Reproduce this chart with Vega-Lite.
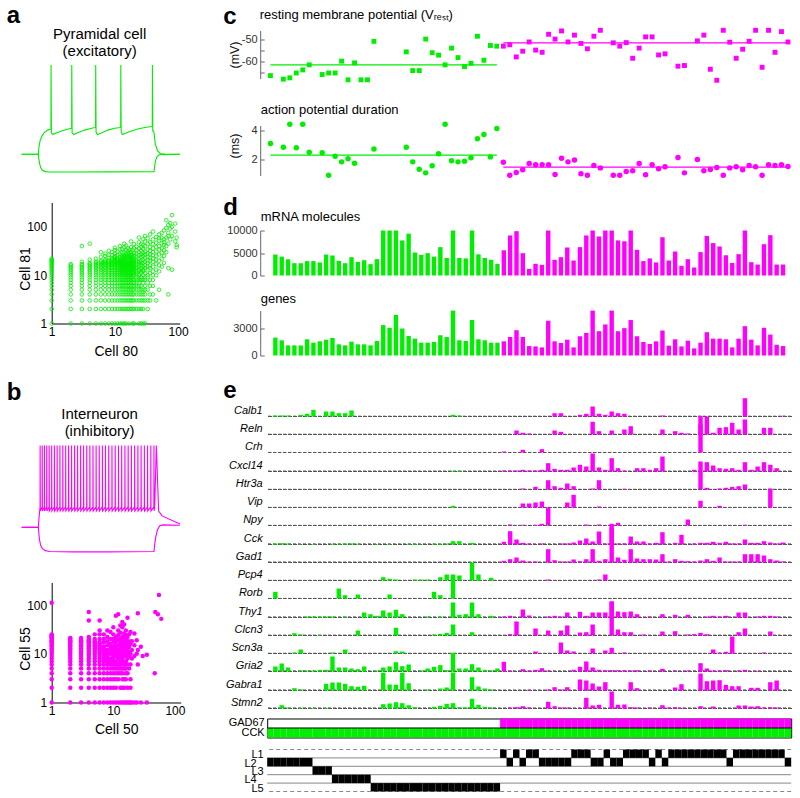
{
"$schema": "https://vega.github.io/schema/vega-lite/v6.json",
"background": "white",
"padding": {"left": 6.7, "top": 3.5, "right": 0, "bottom": 0},
"config": {
 "font": "Liberation Sans",
 "view": {"stroke": null},
 "axis": {"grid": false, "labelFont": "Liberation Sans", "titleFont": "Liberation Sans", "titleFontWeight": "normal", "labelColor": "#333", "titleColor": "#111", "domainColor": "#666", "tickColor": "#666"},
 "title": {"font": "Liberation Sans", "fontWeight": "bold", "fontSize": 24, "anchor": "start", "frame": "group", "color": "#000", "offset": 0, "baseline": "alphabetic"}
},
"datasets": {
 "cells": [
  {"c":1,"m":4660,"g":1990,"v":-66.4,"ap":3.11,"L":"L2","GAD67":0,"CCK":1},
  {"c":2,"m":4200,"g":1690,"L":"L2","GAD67":0,"CCK":1},
  {"c":3,"m":3600,"g":1125,"v":-68.0,"ap":2.86,"L":"L2","GAD67":0,"CCK":1},
  {"c":4,"m":2740,"g":1125,"v":-67.4,"ap":4.43,"L":"L2","GAD67":0,"CCK":1},
  {"c":5,"m":2740,"g":1125,"v":-65.2,"ap":2.82,"L":"L2","GAD67":0,"CCK":1},
  {"c":6,"m":3200,"g":1800,"v":-63.8,"ap":4.43,"L":"L2","GAD67":0,"CCK":1},
  {"c":7,"m":3200,"g":1425,"v":-61.5,"ap":2.52,"L":"L2","GAD67":0,"CCK":1},
  {"c":8,"m":2900,"g":1575,"L":"L3","GAD67":0,"CCK":1},
  {"c":9,"m":4660,"g":1760,"v":-65.9,"ap":2.48,"L":"L3","GAD67":0,"CCK":1},
  {"c":10,"m":4440,"g":1950,"v":-65.2,"ap":0.95,"L":"L3","GAD67":0,"CCK":1},
  {"c":11,"m":3260,"g":1240,"v":-65.2,"ap":2.25,"L":"L4","GAD67":0,"CCK":1},
  {"c":12,"m":2740,"g":1125,"v":-59.8,"ap":1.86,"L":"L4","GAD67":0,"CCK":1},
  {"c":13,"m":4070,"g":1540,"v":-68.3,"ap":2.07,"L":"L4","GAD67":0,"CCK":1},
  {"c":14,"m":3030,"g":1240,"v":-60.6,"ap":1.77,"L":"L4","GAD67":0,"CCK":1},
  {"c":15,"m":3400,"g":1240,"v":-68.3,"L":"L4","GAD67":0,"CCK":1},
  {"c":16,"m":2520,"g":1125,"v":-68.3,"L":"L4","GAD67":0,"CCK":1},
  {"c":17,"m":3630,"g":1610,"v":-50.8,"ap":2.73,"L":"L5","GAD67":0,"CCK":1},
  {"c":18,"m":10000,"g":3375,"L":"L5","GAD67":0,"CCK":1},
  {"c":19,"m":10000,"g":3075,"L":"L5","GAD67":0,"CCK":1},
  {"c":20,"m":10000,"g":4500,"L":"L5","GAD67":0,"CCK":1},
  {"c":21,"m":7800,"g":3000,"L":"L5","GAD67":0,"CCK":1},
  {"c":22,"m":9300,"g":2175,"v":-55.6,"ap":2.86,"L":"L5","GAD67":0,"CCK":1},
  {"c":23,"m":5100,"g":1875,"v":-64.1,"ap":1.86,"L":"L5","GAD67":0,"CCK":1},
  {"c":24,"m":4600,"g":1425,"v":-64.1,"ap":1.36,"L":"L5","GAD67":0,"CCK":1},
  {"c":25,"m":4960,"g":1425,"v":-49.8,"ap":1.11,"L":"L5","GAD67":0,"CCK":1},
  {"c":26,"m":4200,"g":1500,"v":-56.0,"ap":1.6,"L":"L5","GAD67":0,"CCK":1},
  {"c":27,"m":6300,"g":2250,"v":-57.1,"ap":2.41,"L":"L5","GAD67":0,"CCK":1},
  {"c":28,"m":3900,"g":2060,"v":-61.5,"ap":4.43,"L":"L5","GAD67":0,"CCK":1},
  {"c":29,"m":10000,"g":4990,"v":-53.9,"ap":1.93,"L":"L5","GAD67":0,"CCK":1},
  {"c":30,"m":3900,"g":1690,"v":-58.2,"ap":1.86,"L":"L5","GAD67":0,"CCK":1},
  {"c":31,"m":3800,"g":1610,"v":-62.3,"ap":1.91,"L":"L5","GAD67":0,"CCK":1},
  {"c":32,"m":10000,"g":3940,"v":-60.8,"ap":2.14,"L":"L5","GAD67":0,"CCK":1},
  {"c":33,"m":4700,"g":1800,"v":-48.5,"ap":3.43,"L":"L5","GAD67":0,"CCK":1},
  {"c":34,"m":3900,"g":1690,"v":-59.4,"ap":3.73,"L":"L5","GAD67":0,"CCK":1},
  {"c":35,"m":3500,"g":1425,"v":-52.7,"ap":2.2,"L":"L5","GAD67":0,"CCK":1},
  {"c":36,"m":2600,"g":1425,"v":-53.0,"ap":4.14,"L":"L5","GAD67":0,"CCK":1},
  {"c":37,"m":5600,"g":1575,"v":-53.0,"ap":1.84,"L":"L1","GAD67":1,"CCK":1},
  {"c":38,"m":8900,"g":2060,"v":-52.4,"ap":0.95,"L":"L2","GAD67":1,"CCK":1},
  {"c":39,"m":9850,"g":2810,"v":-57.9,"ap":1.14,"L":"L1","GAD67":1,"CCK":1},
  {"c":40,"m":4960,"g":2060,"v":-55.3,"ap":1.32,"L":"L2","GAD67":1,"CCK":1},
  {"c":41,"m":1480,"g":1050,"v":-51.1,"ap":1.75,"L":"L1","GAD67":1,"CCK":1},
  {"c":42,"m":2600,"g":1010,"v":-54.8,"ap":1.66,"L":"L1","GAD67":1,"CCK":1},
  {"c":43,"m":2370,"g":900,"v":-55.8,"ap":1.66,"L":"L2","GAD67":1,"CCK":1},
  {"c":44,"m":10000,"g":3860,"v":-47.6,"ap":1.66,"L":"L2","GAD67":1,"CCK":1},
  {"c":45,"m":3480,"g":1575,"v":-49.8,"ap":1.0,"L":"L2","GAD67":1,"CCK":1},
  {"c":46,"m":4070,"g":1390,"v":-46.1,"ap":2.11,"L":"L2","GAD67":1,"CCK":1},
  {"c":47,"m":6220,"g":1760,"v":-51.1,"ap":1.86,"L":"L2","GAD67":1,"CCK":1},
  {"c":48,"m":3330,"g":900,"v":-48.0,"ap":1.98,"L":"L1","GAD67":1,"CCK":1},
  {"c":49,"m":6300,"g":2140,"v":-51.8,"ap":1.05,"L":"L1","GAD67":1,"CCK":1},
  {"c":50,"m":8900,"g":2510,"v":-54.2,"ap":0.95,"L":"L1","GAD67":1,"CCK":1},
  {"c":51,"m":10000,"g":4990,"v":-48.5,"ap":1.61,"L":"L2","GAD67":1,"CCK":1},
  {"c":52,"m":8670,"g":2700,"v":-45.8,"ap":1.45,"L":"L2","GAD67":1,"CCK":1},
  {"c":53,"m":10000,"g":3450,"L":"L1","GAD67":1,"CCK":1},
  {"c":54,"m":10000,"g":4990,"v":-51.5,"ap":0.95,"L":"L2","GAD67":1,"CCK":1},
  {"c":55,"m":7800,"g":2700,"v":-53.0,"ap":0.95,"L":"L2","GAD67":1,"CCK":1},
  {"c":56,"m":7600,"g":3040,"v":-51.4,"ap":1.2,"L":"L1","GAD67":1,"CCK":1},
  {"c":57,"m":10000,"g":3940,"v":-58.5,"ap":1.25,"L":"L1","GAD67":1,"CCK":1},
  {"c":58,"m":5700,"g":2140,"v":-53.9,"ap":1.75,"L":"L1","GAD67":1,"CCK":1},
  {"c":59,"m":3200,"g":1500,"v":-48.8,"ap":0.98,"L":"L1","GAD67":1,"CCK":1},
  {"c":60,"m":3800,"g":1275,"v":-48.8,"ap":1.66,"L":"L2","GAD67":1,"CCK":1},
  {"c":61,"m":2900,"g":1575,"v":-57.0,"ap":1.39,"L":"L1","GAD67":1,"CCK":1},
  {"c":62,"m":8500,"g":2775,"v":-56.5,"ap":1.52,"L":"L2","GAD67":1,"CCK":1},
  {"c":63,"m":3330,"g":1090,"L":"L1","GAD67":1,"CCK":1},
  {"c":64,"m":5330,"g":1800,"v":-62.1,"ap":2.16,"L":"L1","GAD67":1,"CCK":1},
  {"c":65,"m":2150,"g":1010,"v":-61.8,"ap":1.11,"L":"L1","GAD67":1,"CCK":1},
  {"c":66,"m":3630,"g":1650,"L":"L1","GAD67":1,"CCK":1},
  {"c":67,"m":1780,"g":790,"v":-50.6,"ap":2.02,"L":"L1","GAD67":1,"CCK":1},
  {"c":68,"m":5200,"g":1425,"v":-48.0,"ap":1.25,"L":"L1","GAD67":1,"CCK":1},
  {"c":69,"m":8800,"g":2590,"v":-63.5,"ap":1.34,"L":"L1","GAD67":1,"CCK":1},
  {"c":70,"m":7200,"g":1875,"v":-68.5,"ap":1.48,"L":"L1","GAD67":1,"CCK":1},
  {"c":71,"m":6450,"g":1875,"v":-45.8,"ap":0.95,"L":"L1","GAD67":1,"CCK":1},
  {"c":72,"m":4500,"g":1800,"v":-51.2,"ap":1.45,"L":"L2","GAD67":1,"CCK":1},
  {"c":73,"m":2800,"g":900,"v":-58.5,"ap":1.52,"L":"L1","GAD67":1,"CCK":1},
  {"c":74,"m":4740,"g":1875,"v":-54.4,"ap":1.32,"L":"L1","GAD67":1,"CCK":1},
  {"c":75,"m":10000,"g":3260,"v":-50.8,"ap":1.61,"L":"L1","GAD67":1,"CCK":1},
  {"c":76,"m":2960,"g":1760,"v":-45.8,"ap":1.52,"L":"L1","GAD67":1,"CCK":1},
  {"c":77,"m":2440,"g":1125,"v":-62.6,"ap":0.95,"L":"L1","GAD67":1,"CCK":1},
  {"c":78,"m":6960,"g":3075,"v":-45.8,"ap":1.66,"L":"L1","GAD67":1,"CCK":1},
  {"c":79,"m":8960,"g":2325,"v":-55.8,"ap":1.61,"L":"L1","GAD67":1,"CCK":1},
  {"c":80,"m":2440,"g":1200,"v":-46.4,"ap":1.66,"L":"L1","GAD67":1,"CCK":1},
  {"c":81,"m":2440,"g":1050,"v":-51.1,"ap":1.55,"L":"L2","GAD67":1,"CCK":1}
 ],
 "means": [{"c1":1,"c2":36,"v":-61.5,"ap":2.32},{"c1":37,"c2":81,"v":-51.5,"ap":1.5}],
 "expr": [
  {"gene":"Calb1","c":[1,2,3,5,6,7,9,10,11,12,13,29,30,45,46,49,50,51,52,53,54,55,56,62,75,81],"v":[1,1,1,1.7,2.7,6.7,5,5,3.3,3.3,6,1.7,1,3.3,3.3,1.7,2.7,10,2.7,1.7,5,3.3,2.7,1,18.3,0.7]},
  {"gene":"Reln","c":[39,40,41,45,46,51,52,54,56,57,62,64,65,66,68,69,70,71,72,73,74,75,78,79],"v":[4,1.7,1,4,2.7,12.7,3.3,4,5,8.3,5,3.3,1.7,1,10,18,1.7,6.7,7.3,11.7,5,15,6.7,6.7]},
  {"gene":"Crh","c":[37,40,43,68],"v":[1,2.7,3.3,36.7]},
  {"gene":"Cxcl14","c":[29,30,37,38,39,40,41,42,43,44,45,46,47,48,49,50,51,52,53,54,55,56,58,59,60,61,62,67,68,69,70,71,72,73,74,75,76,77,78,79,80],"v":[0.7,0.7,1,1,1,1.7,1,1,1.7,8.3,2.7,1.7,1.7,4,6.7,5,18,4,1.7,13.3,3.3,1,3.3,3.3,1.7,3.3,15,1.7,10,9.3,6,3.3,2.7,3.3,1.7,9.3,1.7,5,9.3,6.7,3.3]},
  {"gene":"Htr3a","c":[40,42,44,45,46,47,48,51,52,56,68,69,71,72,73,74,75,79],"v":[1,2.7,9.3,3.3,1.7,6,3.3,1,9.3,0.7,18,1.7,1,1.7,2.7,3.3,5,1]},
  {"gene":"Vip","c":[29,40,41,42,43,47,48,52,68,71,79],"v":[1.7,4,4,5,6,5,12.7,1,6.7,1.7,18.3]},
  {"gene":"Npy","c":[38,40,42,43,44,50,52,54,55,66,75],"v":[1,0.7,0.7,1.7,18,1,1,1.7,2.7,6,0.7]},
  {"gene":"Cck","c":[1,2,3,5,7,10,11,12,13,14,17,19,22,23,24,26,27,28,29,30,32,37,38,39,40,41,43,46,47,48,49,50,51,52,53,54,55,56,57,58,59,60,61,62,64,65,67,68,69,70,71,72,73,74,75,76,77,78,79,80,81],"v":[1,1.3,1,0.5,0.5,0.7,0.7,1,1,0.7,0.5,0.5,0.7,0.7,0.5,0.7,0.7,1,3.3,3.3,1.7,2.7,13.3,5,1.7,1,1,1,1,2,4,6,3,13,1,19.7,1,1,8,3,3,1,1.7,12.3,1.7,9.7,1,1.7,1.7,2.7,1.7,2.7,1,1,5,1.7,1.7,3.3,2,1,2]},
  {"gene":"Gad1","c":[37,38,39,40,41,42,44,45,46,47,48,49,50,51,52,53,54,55,56,57,58,59,60,61,62,63,64,65,66,67,68,69,70,71,72,73,74,75,76,77,78,79,80,81],"v":[1.7,3.3,5,2,1,1,13.3,2.3,1,1,3,1.3,3.3,13.3,1.7,3.3,35,5,2.7,13.3,4,3.3,3.3,3,8.3,1,3.3,1.7,1.3,1,2,3.3,1.7,5,1,1,1,8.3,8.3,8.3,7,3.3,2,1]},
  {"gene":"Pcp4","c":[18,19,20,23,24,25,27,28,29,30,32,33,35,44,52,53],"v":[3.3,1.7,1,1,1,1,3.3,6,5,5,18,6,2.7,1,1,6]},
  {"gene":"Rorb","c":[1,11,12,14,19,26,27,29],"v":[6.7,10,3.3,4,4,6.7,3.3,24]},
  {"gene":"Thy1","c":[6,7,8,9,10,12,15,16,17,18,19,20,21,25,27,29,30,31,32,33,35,37,38,40,41,44,45,46,47,49,50,51,52,53,54,55,56,57,58,60,62,64,66,69,70,71,72,74,75,77,78,79,80],"v":[1,1,1,1,1,1,5,3.3,1.7,7,5,7.7,3.3,1,1,15,2.7,3.3,15,3.3,1.7,1,1.7,8,2,1,1.7,1,5,5.7,1.7,5,5,5,16,6,5.3,6,3.3,1,3.3,2.7,2.7,1,1.7,1,1.7,5,5,1,1.7,1.7,1]},
  {"gene":"Clcn3","c":[4,5,8,14,20,26,27,28,29,32,38,39,42,44,46,47,49,50,51,54,55,56,57,59,62,64,66,67,68,69,74,75,79],"v":[2.3,1,0.7,5,7.7,1,1.7,2.7,11,3.3,1.3,14,7,5,5,10,3,3.3,11,34,6,3.3,3.3,1,4,4.3,1,1.3,2.7,1.3,3.3,7,4]},
  {"gene":"Scn3a","c":[4,5,10,12,20,21,42,46,47,48,51,53,54,56,70,71,72,73,78],"v":[1,4,1,4,2.3,2,2,11,3,2,5,3,5.7,1,4,1,1.7,17,1]},
  {"gene":"Gria2","c":[1,2,3,5,6,7,8,9,10,11,12,13,14,15,17,18,19,20,21,22,24,25,26,27,28,29,30,31,32,33,34,35,36,37,38,40,41,42,43,44,48,49,50,51,52,53,54,55,56,57,58,60,62,64,66,68,69,70,71,72,74,75,77],"v":[5,8,4,1,1,1,1.7,1.7,15,4,4,3,2.3,5,1,4,5,9.3,5.3,7,1,3,4.7,6.3,1.3,18.7,3,3,7.3,4,1.7,1,3,9.7,1,2.3,1,1.7,3.3,1,1.7,4.7,10,4,1.7,1.3,1.3,1.3,1.3,1,1.3,1,2.7,1,1,8.3,3,1,1,1.3,1,1.7,0.7]},
  {"gene":"Gabra1","c":[4,5,9,10,11,12,13,14,15,18,19,20,21,22,25,27,28,29,32,33,34,35,41,44,45,46,47,49,50,51,52,53,57,58,64,65,68,69,70,71,72,73,74,76,77,79,80],"v":[2.3,1,6.7,8,8,6.7,4.3,3.7,4.7,17.7,6,5.7,17.7,7.3,1,2,3,18,13.3,4,2,1,0.7,1,3.3,1,3.3,11,10,7,4,8.3,8.3,2.3,3,6.3,17,9.3,10,10.3,5.7,4.3,4.3,2.7,2.7,8.3,10]},
  {"gene":"Stmn2","c":[2,3,5,7,9,18,19,20,21,22,23,26,27,28,29,30,31,32,33,34,35,38,39,40,41,44,45,46,47,49,50,51,52,54,55,56,57,58,60,62,63,64,65,68,70,74,75,76,77,78,79,80],"v":[3.3,1,0.7,0.7,0.7,4.3,5,6.3,5.3,3.3,1.3,1.7,2.7,4.7,5.3,1.3,1,9.7,3.7,1.7,1,1,1.3,2.3,1,6.7,2.3,1,1,0.7,10.7,3,3.7,17,3.7,4,1.3,1,1,3.3,1,1.3,0.7,2.3,2,3,3,2,2.3,1,1.3,1]}
 ]
},
"hconcat": [
 {
  "vconcat": [
   {"width": 10, "height": 30, "data": {"values": [{}]}, "mark": {"type": "point", "opacity": 0}, "encoding": {}},
   {
    "width": 131, "height": 116,
    "title": {"text": "a", "dx": -45, "dy": 5},
    "data": {"values": [
     {"s":"1","t":[-144,0,5,15,30,50,80,105,109,110,113,125,160,200,250,285,288,289,292,305,340,400,460,492,495,496,499,510,550,600,660,709,712,713,716,728,780,850,920,982,985,986,989,997,1002,1010,1030,1060,1085,1224],
      "v":[-70,-70,-62,-55,-50,-46,-43,-42,-42,30,-46,-48,-46,-44,-42,-41,-41,30,-46,-48,-46,-43,-41,-40,-40,30,-45,-48,-46,-43,-41,-40,-40,30,-45,-48,-45,-42,-40,-39,-39,30,-44,-44,-48,-58,-66,-70,-70.5,-70]},
     {"s":"2","t":[-144,0,4,10,20,35,60,100,300,600,1000,1004,1012,1025,1045,1070,1100,1224],
      "v":[-70,-70,-75,-80,-85,-88,-89.5,-90,-90,-89.8,-89.5,-85,-78,-73,-70.5,-69.5,-70,-70]}
    ]},
    "transform": [{"flatten": ["t","v"]}],
    "mark": {"type": "line", "color": "#00ee00", "strokeWidth": 1.1},
    "encoding": {
     "x": {"field": "t", "type": "quantitative", "scale": {"domain": [115.5, 1248], "nice": false, "zero": false}, "axis": {"orient": "top", "domain": false, "ticks": false, "labels": false, "title": ["Pyramidal cell", "(excitatory)"], "titleFontSize": 15, "titleX": 47.4, "titleY": -22, "titleAlign": "center", "titleBaseline": "alphabetic", "titleColor": "#000"}},
     "y": {"field": "v", "type": "quantitative", "scale": {"domain": [-95, 35], "nice": false, "zero": false}, "axis": null},
     "detail": {"field": "s", "type": "nominal"}
    }
   },
   {"width": 10, "height": 26, "data": {"values": [{}]}, "mark": {"type": "point", "opacity": 0}, "encoding": {}},
   {
    "width": 128, "height": 121,
    "data": {"values": [
     {"x":1,"ys":[1,2,3,4,5,6,7,8,9,10,11,12,13,14,15,16,17,18,19,20,21,22]},
     {"x":2,"ys":[1,2,3,4,5,6,7,8,9,10,11,12,13,14,15,16,17]},
     {"x":3,"ys":[1,2,3,4,5,6,7,8,9,10,11,12,13,14,15,16,17,19,40]},
     {"x":4,"ys":[1,2,3,4,5,6,7,8,9,10,11,12,13,14,15,16,17,18,21,45]},
     {"x":5,"ys":[1,2,3,4,5,6,7,8,9,10,11,12,13,14,15,16,17,18,19,22]},
     {"x":6,"ys":[1,2,3,4,5,6,7,8,9,10,11,12,13,14,15,16,17,18,19,20,24,30]},
     {"x":7,"ys":[1,2,3,4,5,6,7,8,9,10,11,12,13,14,15,16,17,18,19,20,21,25,28]},
     {"x":8,"ys":[1,2,3,4,5,6,7,8,9,10,11,12,13,14,15,16,17,18,19,20,23,26,32]},
     {"x":9,"ys":[1,2,3,4,5,6,7,8,9,10,11,12,13,14,15,16,17,18,19,20,21,22,26,30]},
     {"x":10,"ys":[1,2,3,4,5,6,7,8,9,10,11,12,13,14,15,16,17,18,19,20,21,22,23,24,25,28,33,37]},
     {"x":11,"ys":[1,2,3,4,5,6,7,8,9,10,11,12,13,14,15,16,17,18,19,20,21,22,26,31]},
     {"x":12,"ys":[1,2,3,4,5,6,7,8,9,10,11,12,13,14,15,16,17,18,19,20,22,24,27,34,40]},
     {"x":13,"ys":[1,2,3,4,5,6,7,8,9,10,11,12,13,14,15,16,17,18,19,20,21,23,25,29,35]},
     {"x":14,"ys":[1,2,3,4,5,6,7,8,9,10,11,12,13,14,15,16,17,18,19,20,22,24,26,30,38,45]},
     {"x":15,"ys":[1,2,3,4,5,6,7,8,9,10,11,12,13,14,15,16,17,18,19,21,23,25,28,33,41]},
     {"x":16,"ys":[2,3,4,5,6,7,8,9,10,11,12,13,14,15,16,17,18,20,22,24,27,31,36]},
     {"x":17,"ys":[1,2,3,4,5,6,7,8,9,10,11,12,13,14,15,16,17,19,21,23,25,29,34]},
     {"x":18,"ys":[2,3,4,5,6,7,8,9,10,11,12,13,14,15,16,18,20,22,24,26,30,38,50]},
     {"x":19,"ys":[1,2,3,4,5,6,7,8,9,10,11,12,13,14,15,16,17,18,19,20,22,24,27,33]},
     {"x":20,"ys":[1,2,3,4,5,6,7,8,10,11,12,13,14,15,16,18,20,22,25,29,36,44]},
     {"x":22,"ys":[2,3,4,5,6,7,8,9,10,11,12,14,15,17,19,21,24,28,33,39]},
     {"x":24,"ys":[1,2,3,4,5,6,7,8,9,10,12,13,15,17,19,22,26,30,36,48,60]},
     {"x":26,"ys":[1,2,3,4,5,6,8,9,11,12,14,16,18,20,24,27,32,38,44]},
     {"x":28,"ys":[1,2,3,4,5,7,8,10,12,13,15,18,21,25,29,35,42,55]},
     {"x":30,"ys":[1,3,4,5,6,8,9,11,14,16,19,23,27,31,40,50,65]},
     {"x":33,"ys":[2,3,5,7,9,10,13,15,18,20,24,28,34,45,58]},
     {"x":36,"ys":[3,4,6,8,11,14,16,20,23,27,32,38,48,70]},
     {"x":40,"ys":[4,6,8,10,12,15,19,22,26,30,36,44,55,80]},
     {"x":45,"ys":[3,10,13,17,21,25,31,38,47,62]},
     {"x":50,"ys":[5,12,16,20,27,34,40,52,70,58]},
     {"x":55,"ys":[15,22,29,36,46,60,75]},
     {"x":60,"ys":[18,25,33,42,55,85,48]},
     {"x":65,"ys":[30,40,60,137,95]},
     {"x":70,"ys":[4,14,45,65,75,110]},
     {"x":75,"ys":[92,120,55]},
     {"x":80,"ys":[13,175,100,65]},
     {"x":90,"ys":[117,80,50]},
     {"x":95,"ys":[42,60,38]}
    ]},
    "transform": [{"flatten": ["ys"], "as": ["y"]}],
    "mark": {"type": "point", "shape": "circle", "filled": false, "size": 13, "strokeWidth": 0.8, "color": "#00ee00", "opacity": 1},
    "encoding": {
     "x": {"field": "x", "type": "quantitative", "scale": {"type": "log", "domain": [1, 106], "nice": false}, "axis": {"values": [1,10,100], "format": "d", "title": "Cell 80", "ticks": false, "domainColor": "#000", "labelColor": "#000", "labelFontSize": 12, "labelPadding": 3, "labelFlush": false, "titleFontSize": 14, "titleY": 32, "titleBaseline": "alphabetic", "titleColor": "#000"}},
     "y": {"field": "y", "type": "quantitative", "scale": {"type": "log", "domain": [1, 320], "nice": false}, "axis": {"values": [1,10,100], "format": "d", "title": "Cell 81", "ticks": false, "domainColor": "#000", "labelColor": "#000", "labelFontSize": 12, "labelPadding": 5, "labelFlush": false, "titleFontSize": 14, "titleX": -19, "titleY": 66, "titleBaseline": "bottom", "titleAngle": -90, "titleColor": "#000"}}
    }
   },
   {"width": 10, "height": 118, "data": {"values": [{}]}, "mark": {"type": "point", "opacity": 0}, "encoding": {}},
   {
    "width": 131, "height": 112,
    "title": {"text": "b", "dx": -45, "dy": 2.5},
    "data": {"values": [
     {"s":"1","t":[-144,0,5,10,15,15.5,17,33,33.5,35,52,52.5,54,72,72.5,74,93,93.5,95,115,115.5,117,138,138.5,140,162,162.5,164,186,186.5,188,211,211.5,213,236,236.5,238,261,261.5,263,287,287.5,289,313,313.5,315,339,339.5,341,365,365.5,367,391,391.5,393,418,418.5,420,445,445.5,447,472,472.5,474,499,499.5,501,526,526.5,528,553,553.5,555,580,580.5,582,608,608.5,610,636,636.5,638,664,664.5,666,692,692.5,694,720,720.5,722,748,748.5,750,776,776.5,778,804,804.5,806,832,832.5,834,860,860.5,862,888,888.5,890,916,916.5,918,944,944.5,946,972,972.5,974,999,999.5,1001,1006,1020,1040,1070,1224],
      "v":[-70,-70,-60,-52,-45,30,-50,-45,30,-50,-45,30,-50,-45,30,-50,-45,30,-50,-45,30,-50,-45,30,-50,-45,30,-50,-45,30,-50,-45,30,-50,-45,30,-50,-45,30,-50,-45,30,-50,-45,30,-50,-45,30,-50,-45,30,-50,-45,30,-50,-45,30,-50,-45,30,-50,-45,30,-50,-45,30,-50,-45,30,-50,-45,30,-50,-45,30,-50,-45,30,-50,-45,30,-50,-45,30,-50,-45,30,-50,-45,30,-50,-45,30,-50,-45,30,-50,-45,30,-50,-45,30,-50,-45,30,-50,-45,30,-50,-45,30,-50,-45,30,-50,-45,30,-50,-45,30,-50,-45,30,-50,-56,-66,-72,-73.5,-73]},
     {"s":"2","t":[-144,0,4,10,20,35,60,100,300,600,1000,1005,1015,1030,1050,1075,1224],
      "v":[-70,-70,-77,-85,-92,-96,-98.5,-99.5,-100,-100,-99.5,-92,-82,-73,-68,-67,-67.5]}
    ]},
    "transform": [{"flatten": ["t","v"]}],
    "mark": {"type": "line", "color": "#ff00ff", "strokeWidth": 1.1},
    "encoding": {
     "x": {"field": "t", "type": "quantitative", "scale": {"domain": [115.5, 1248], "nice": false, "zero": false}, "axis": {"orient": "top", "domain": false, "ticks": false, "labels": false, "title": ["Interneuron", "(inhibitory)"], "titleFontSize": 15, "titleX": 47.4, "titleY": -22.6, "titleAlign": "center", "titleBaseline": "alphabetic", "titleColor": "#000"}},
     "y": {"field": "v", "type": "quantitative", "scale": {"domain": [-102, 35], "nice": false, "zero": false}, "axis": null},
     "detail": {"field": "s", "type": "nominal"}
    }
   },
   {"width": 10, "height": 29, "data": {"values": [{}]}, "mark": {"type": "point", "opacity": 0}, "encoding": {}},
   {
    "width": 129, "height": 120,
    "data": {"values": [
     {"x":1,"ys":[1,2,3,4,5,6,7,8,9,10,11,12,13,14,15,16,17,18,19,20,21,22,23,24,25,111]},
     {"x":2,"ys":[1,2,3,4,5,6,7,8,9,10,11,12,13,14,15,16,17,18,19,20,21]},
     {"x":3,"ys":[1,2,3,4,5,6,7,8,9,10,11,12,13,14,15,16,17,18,19,20,21]},
     {"x":4,"ys":[1,2,3,4,5,6,7,8,9,10,11,12,13,14,15,16,17,18,19,20,22,48,72]},
     {"x":5,"ys":[1,2,3,4,5,6,7,8,9,10,11,12,13,14,15,16,17,18,20,25]},
     {"x":6,"ys":[1,2,3,4,5,6,7,8,9,10,11,12,13,14,15,16,17,20,25,30,48]},
     {"x":7,"ys":[1,2,3,4,5,6,7,8,9,10,11,12,13,14,17,20,25]},
     {"x":8,"ys":[1,2,3,4,5,6,7,8,9,10,11,12,15,18,22,30]},
     {"x":9,"ys":[1,2,3,4,5,6,7,8,10,12,14,16,20,28]},
     {"x":10,"ys":[1,2,3,4,5,6,7,8,9,10,12,14,17,20,25,35]},
     {"x":11,"ys":[1,2,3,4,5,6,7,9,11,13,15,18,22,60]},
     {"x":12,"ys":[1,3,4,5,6,8,10,12,15,19,24,30,65]},
     {"x":13,"ys":[1,2,4,5,6,7,9,11,13,16,20,27,38]},
     {"x":14,"ys":[1,2,3,4,5,7,8,10,12,14,18,22,35,45]},
     {"x":15,"ys":[1,2,3,5,6,9,11,13,16,20,26,40]},
     {"x":16,"ys":[1,3,4,5,7,9,12,15,19,24,30]},
     {"x":17,"ys":[1,2,4,6,8,10,13,17,22,55]},
     {"x":18,"ys":[1,5,9,11,14,18,25]},
     {"x":19,"ys":[1,2,3,6,10,16,28]},
     {"x":20,"ys":[1,8,12,18]},
     {"x":22,"ys":[1,9,15,26]},
     {"x":24,"ys":[1,10,19]},
     {"x":25,"ys":[6,12,68]},
     {"x":28,"ys":[1,14]},
     {"x":30,"ys":[9]},
     {"x":35,"ys":[1,9.5]},
     {"x":47,"ys":[4]},
     {"x":48,"ys":[72]},
     {"x":53,"ys":[65]},
     {"x":55,"ys":[160]},
     {"x":60,"ys":[52]}
    ]},
    "transform": [{"flatten": ["ys"], "as": ["y"]}],
    "mark": {"type": "point", "shape": "circle", "filled": true, "size": 20, "color": "#ff00ff", "opacity": 1},
    "encoding": {
     "x": {"field": "x", "type": "quantitative", "scale": {"type": "log", "domain": [1, 124], "nice": false}, "axis": {"values": [1,10,100], "format": "d", "title": "Cell 50", "ticks": false, "domainColor": "#000", "labelColor": "#000", "labelFontSize": 12, "labelPadding": 3, "labelFlush": false, "titleFontSize": 14, "titleY": 31, "titleBaseline": "alphabetic", "titleColor": "#000"}},
     "y": {"field": "y", "type": "quantitative", "scale": {"type": "log", "domain": [1, 290], "nice": false}, "axis": {"values": [1,10,100], "format": "d", "title": "Cell 55", "ticks": false, "domainColor": "#000", "labelColor": "#000", "labelFontSize": 12, "labelPadding": 5, "labelFlush": false, "titleFontSize": 14, "titleX": -19, "titleY": 66, "titleBaseline": "bottom", "titleAngle": -90, "titleColor": "#000"}}
    }
   }
  ],
  "spacing": 0, "bounds": "flush"
 },
 {
  "vconcat": [
   {
    "width": 524, "height": 48,
    "data": {"name": "cells"},
    "title": {"text": "c", "dx": -44, "dy": 24},
    "layer": [
     {"mark": {"type": "square", "size": 24, "opacity": 1},
      "encoding": {
       "x": {"field": "c", "type": "quantitative", "scale": {"domain": [0.5, 81.5], "nice": false, "zero": false}, "axis": {"orient": "top", "domain": false, "ticks": false, "labels": false, "title": "resting membrane potential (Vᵣₑₛₜ)", "titleAnchor": "start", "titleAlign": "left", "titleX": -8, "titleY": -12, "titleBaseline": "alphabetic", "titleFontSize": 13, "titleColor": "#000"}},
       "y": {"field": "v", "type": "quantitative", "scale": {"domain": [-67.7, -45.9], "nice": false, "zero": false}, "axis": {"title": "(mV)", "values": [-65, -60, -55, -50], "labelExpr": "datum.value % 10 === 0 ? '-' + abs(datum.value) : ''", "offset": 7, "tickSize": -4, "labelPadding": 7, "labelFontSize": 11, "titleFontSize": 12.5, "titleX": -26, "titleY": 24, "titleBaseline": "middle", "titleAngle": -90}},
       "color": {"condition": {"test": "datum.c > 36", "value": "#ff00ff"}, "value": "#00ee00"}
      }},
     {"data": {"name": "means"}, "mark": {"type": "rule", "strokeWidth": 1.2},
      "encoding": {
       "x": {"field": "c1", "type": "quantitative", "axis": {"orient": "top", "domain": false, "ticks": false, "labels": false, "title": "resting membrane potential (Vᵣₑₛₜ)", "titleAnchor": "start", "titleAlign": "left", "titleX": -8, "titleY": -12, "titleBaseline": "alphabetic", "titleFontSize": 13, "titleColor": "#000"}},
       "x2": {"field": "c2"},
       "y": {"field": "v", "type": "quantitative", "axis": {"title": "(mV)", "values": [-65, -60, -55, -50], "labelExpr": "datum.value % 10 === 0 ? '-' + abs(datum.value) : ''", "offset": 7, "tickSize": -4, "labelPadding": 7, "labelFontSize": 11, "titleFontSize": 12.5, "titleX": -26, "titleY": 24, "titleBaseline": "middle", "titleAngle": -90}},
       "color": {"condition": {"test": "datum.c1 > 36", "value": "#ff00ff"}, "value": "#00ee00"}}}
    ]
   },
   {"width": 10, "height": 47, "data": {"values": [{}]}, "mark": {"type": "point", "opacity": 0}, "encoding": {}},
   {
    "width": 524, "height": 50,
    "data": {"name": "cells"},
    "layer": [
     {"mark": {"type": "circle", "size": 30, "opacity": 1},
      "encoding": {
       "x": {"field": "c", "type": "quantitative", "scale": {"domain": [0.5, 81.5], "nice": false, "zero": false}, "axis": {"orient": "top", "domain": false, "ticks": false, "labels": false, "title": "action potential duration", "titleAnchor": "start", "titleAlign": "left", "titleX": -7, "titleY": -12, "titleBaseline": "alphabetic", "titleFontSize": 13, "titleColor": "#000"}},
       "y": {"field": "ap", "type": "quantitative", "scale": {"domain": [0.93, 4.34], "nice": false, "zero": false}, "axis": {"title": "(ms)", "values": [2, 4], "offset": 7, "tickSize": -4, "labelPadding": 7, "labelFontSize": 11, "titleFontSize": 12.5, "titleX": -26, "titleY": 20, "titleBaseline": "middle", "titleAngle": -90}},
       "color": {"condition": {"test": "datum.c > 36", "value": "#ff00ff"}, "value": "#00ee00"}
      }},
     {"data": {"name": "means"}, "mark": {"type": "rule", "strokeWidth": 1.2},
      "encoding": {
       "x": {"field": "c1", "type": "quantitative", "axis": {"orient": "top", "domain": false, "ticks": false, "labels": false, "title": "action potential duration", "titleAnchor": "start", "titleAlign": "left", "titleX": -7, "titleY": -12, "titleBaseline": "alphabetic", "titleFontSize": 13, "titleColor": "#000"}},
       "x2": {"field": "c2"},
       "y": {"field": "ap", "type": "quantitative", "axis": {"title": "(ms)", "values": [2, 4], "offset": 7, "tickSize": -4, "labelPadding": 7, "labelFontSize": 11, "titleFontSize": 12.5, "titleX": -26, "titleY": 20, "titleBaseline": "middle", "titleAngle": -90}},
       "color": {"condition": {"test": "datum.c1 > 36", "value": "#ff00ff"}, "value": "#00ee00"}}}
    ]
   },
   {"width": 10, "height": 55, "data": {"values": [{}]}, "mark": {"type": "point", "opacity": 0}, "encoding": {}},
   {
    "width": 524, "height": 45,
    "data": {"name": "cells"},
    "title": {"text": "d", "dx": -44, "dy": 13.3},
    "mark": {"type": "bar", "width": 4.4, "orient": "vertical"},
    "encoding": {
     "x": {"field": "c", "type": "quantitative", "scale": {"domain": [0.5, 81.5], "nice": false, "zero": false}, "axis": {"orient": "top", "domain": false, "ticks": false, "labels": false, "title": "mRNA molecules", "titleAnchor": "start", "titleAlign": "left", "titleX": -7, "titleY": -10, "titleBaseline": "alphabetic", "titleFontSize": 13, "titleColor": "#000"}},
     "y": {"field": "m", "type": "quantitative", "scale": {"domain": [0, 10000], "nice": false}, "axis": {"title": null, "values": [0, 5000, 10000], "format": "d", "offset": 7, "tickSize": -4, "labelPadding": 7, "labelFontSize": 11}},
     "color": {"condition": {"test": "datum.c > 36", "value": "#ff00ff"}, "value": "#00ee00"}
    }
   },
   {"width": 10, "height": 35, "data": {"values": [{}]}, "mark": {"type": "point", "opacity": 0}, "encoding": {}},
   {
    "width": 524, "height": 45,
    "data": {"name": "cells"},
    "mark": {"type": "bar", "width": 4.4, "orient": "vertical"},
    "encoding": {
     "x": {"field": "c", "type": "quantitative", "scale": {"domain": [0.5, 81.5], "nice": false, "zero": false}, "axis": {"orient": "top", "domain": false, "ticks": false, "labels": false, "title": "genes", "titleAnchor": "start", "titleAlign": "left", "titleX": -7, "titleY": -8.5, "titleBaseline": "alphabetic", "titleFontSize": 13, "titleColor": "#000"}},
     "y": {"field": "g", "type": "quantitative", "scale": {"domain": [0, 5000], "nice": false}, "axis": {"title": null, "values": [0, 3000], "format": "d", "offset": 7, "tickSize": -4, "labelPadding": 7, "labelFontSize": 11}},
     "color": {"condition": {"test": "datum.c > 36", "value": "#ff00ff"}, "value": "#00ee00"}
    }
   },
   {"width": 10, "height": 43, "data": {"values": [{}]}, "mark": {"type": "point", "opacity": 0}, "encoding": {}},
   {"width": 524, "height": 18, "data": {"name": "expr"}, "transform": [{"filter": "datum.gene === 'Calb1'"}, {"flatten": ["c", "v"]}],
    "title": {"text": "e", "dx": -44, "dy": 8.5},
    "layer": [
     {"mark": {"type": "rule", "color": "#555", "strokeDash": [3, 2], "strokeWidth": 0.8}, "encoding": {"y": {"datum": 0, "type": "quantitative", "axis": {"title": "Calb1", "titleAngle": 0, "titleAlign": "right", "titleBaseline": "middle", "titleX": -5, "titleY": 12.5, "titleFontStyle": "italic", "titleFontSize": 11, "titleColor": "#000", "domain": false, "ticks": false, "labels": false}}}},
     {"mark": {"type": "bar", "width": 4.4, "orient": "vertical"}, "encoding": {"x": {"field": "c", "type": "quantitative", "scale": {"domain": [0.5, 81.5], "nice": false, "zero": false}, "axis": null}, "y": {"field": "v", "type": "quantitative", "scale": {"domain": [0, 18], "nice": false}, "axis": {"title": "Calb1", "titleAngle": 0, "titleAlign": "right", "titleBaseline": "middle", "titleX": -5, "titleY": 12.5, "titleFontStyle": "italic", "titleFontSize": 11, "titleColor": "#000", "domain": false, "ticks": false, "labels": false}}, "color": {"condition": {"test": "datum.c > 36", "value": "#ff00ff"}, "value": "#00ee00"}}}
    ]},
   {"width": 524, "height": 18, "data": {"name": "expr"}, "transform": [{"filter": "datum.gene === 'Reln'"}, {"flatten": ["c", "v"]}],
    "layer": [
     {"mark": {"type": "rule", "color": "#555", "strokeDash": [3, 2], "strokeWidth": 0.8}, "encoding": {"y": {"datum": 0, "type": "quantitative", "axis": {"title": "Reln", "titleAngle": 0, "titleAlign": "right", "titleBaseline": "middle", "titleX": -5, "titleY": 12.5, "titleFontStyle": "italic", "titleFontSize": 11, "titleColor": "#000", "domain": false, "ticks": false, "labels": false}}}},
     {"mark": {"type": "bar", "width": 4.4, "orient": "vertical"}, "encoding": {"x": {"field": "c", "type": "quantitative", "scale": {"domain": [0.5, 81.5], "nice": false, "zero": false}, "axis": null}, "y": {"field": "v", "type": "quantitative", "scale": {"domain": [0, 18], "nice": false}, "axis": {"title": "Reln", "titleAngle": 0, "titleAlign": "right", "titleBaseline": "middle", "titleX": -5, "titleY": 12.5, "titleFontStyle": "italic", "titleFontSize": 11, "titleColor": "#000", "domain": false, "ticks": false, "labels": false}}, "color": {"condition": {"test": "datum.c > 36", "value": "#ff00ff"}, "value": "#00ee00"}}}
    ]},
   {"width": 524, "height": 18, "data": {"name": "expr"}, "transform": [{"filter": "datum.gene === 'Crh'"}, {"flatten": ["c", "v"]}],
    "layer": [
     {"mark": {"type": "rule", "color": "#555", "strokeDash": [3, 2], "strokeWidth": 0.8}, "encoding": {"y": {"datum": 0, "type": "quantitative", "axis": {"title": "Crh", "titleAngle": 0, "titleAlign": "right", "titleBaseline": "middle", "titleX": -5, "titleY": 12.5, "titleFontStyle": "italic", "titleFontSize": 11, "titleColor": "#000", "domain": false, "ticks": false, "labels": false}}}},
     {"mark": {"type": "bar", "width": 4.4, "orient": "vertical"}, "encoding": {"x": {"field": "c", "type": "quantitative", "scale": {"domain": [0.5, 81.5], "nice": false, "zero": false}, "axis": null}, "y": {"field": "v", "type": "quantitative", "scale": {"domain": [0, 18], "nice": false}, "axis": {"title": "Crh", "titleAngle": 0, "titleAlign": "right", "titleBaseline": "middle", "titleX": -5, "titleY": 12.5, "titleFontStyle": "italic", "titleFontSize": 11, "titleColor": "#000", "domain": false, "ticks": false, "labels": false}}, "color": {"condition": {"test": "datum.c > 36", "value": "#ff00ff"}, "value": "#00ee00"}}}
    ]},
   {"width": 524, "height": 19, "data": {"name": "expr"}, "transform": [{"filter": "datum.gene === 'Cxcl14'"}, {"flatten": ["c", "v"]}],
    "layer": [
     {"mark": {"type": "rule", "color": "#555", "strokeDash": [3, 2], "strokeWidth": 0.8}, "encoding": {"y": {"datum": 0, "type": "quantitative", "axis": {"title": "Cxcl14", "titleAngle": 0, "titleAlign": "right", "titleBaseline": "middle", "titleX": -5, "titleY": 13.5, "titleFontStyle": "italic", "titleFontSize": 11, "titleColor": "#000", "domain": false, "ticks": false, "labels": false}}}},
     {"mark": {"type": "bar", "width": 4.4, "orient": "vertical"}, "encoding": {"x": {"field": "c", "type": "quantitative", "scale": {"domain": [0.5, 81.5], "nice": false, "zero": false}, "axis": null}, "y": {"field": "v", "type": "quantitative", "scale": {"domain": [0, 19], "nice": false}, "axis": {"title": "Cxcl14", "titleAngle": 0, "titleAlign": "right", "titleBaseline": "middle", "titleX": -5, "titleY": 13.5, "titleFontStyle": "italic", "titleFontSize": 11, "titleColor": "#000", "domain": false, "ticks": false, "labels": false}}, "color": {"condition": {"test": "datum.c > 36", "value": "#ff00ff"}, "value": "#00ee00"}}}
    ]},
   {"width": 524, "height": 18, "data": {"name": "expr"}, "transform": [{"filter": "datum.gene === 'Htr3a'"}, {"flatten": ["c", "v"]}],
    "layer": [
     {"mark": {"type": "rule", "color": "#555", "strokeDash": [3, 2], "strokeWidth": 0.8}, "encoding": {"y": {"datum": 0, "type": "quantitative", "axis": {"title": "Htr3a", "titleAngle": 0, "titleAlign": "right", "titleBaseline": "middle", "titleX": -5, "titleY": 12.5, "titleFontStyle": "italic", "titleFontSize": 11, "titleColor": "#000", "domain": false, "ticks": false, "labels": false}}}},
     {"mark": {"type": "bar", "width": 4.4, "orient": "vertical"}, "encoding": {"x": {"field": "c", "type": "quantitative", "scale": {"domain": [0.5, 81.5], "nice": false, "zero": false}, "axis": null}, "y": {"field": "v", "type": "quantitative", "scale": {"domain": [0, 18], "nice": false}, "axis": {"title": "Htr3a", "titleAngle": 0, "titleAlign": "right", "titleBaseline": "middle", "titleX": -5, "titleY": 12.5, "titleFontStyle": "italic", "titleFontSize": 11, "titleColor": "#000", "domain": false, "ticks": false, "labels": false}}, "color": {"condition": {"test": "datum.c > 36", "value": "#ff00ff"}, "value": "#00ee00"}}}
    ]},
   {"width": 524, "height": 18, "data": {"name": "expr"}, "transform": [{"filter": "datum.gene === 'Vip'"}, {"flatten": ["c", "v"]}],
    "layer": [
     {"mark": {"type": "rule", "color": "#555", "strokeDash": [3, 2], "strokeWidth": 0.8}, "encoding": {"y": {"datum": 0, "type": "quantitative", "axis": {"title": "Vip", "titleAngle": 0, "titleAlign": "right", "titleBaseline": "middle", "titleX": -5, "titleY": 12.5, "titleFontStyle": "italic", "titleFontSize": 11, "titleColor": "#000", "domain": false, "ticks": false, "labels": false}}}},
     {"mark": {"type": "bar", "width": 4.4, "orient": "vertical"}, "encoding": {"x": {"field": "c", "type": "quantitative", "scale": {"domain": [0.5, 81.5], "nice": false, "zero": false}, "axis": null}, "y": {"field": "v", "type": "quantitative", "scale": {"domain": [0, 18], "nice": false}, "axis": {"title": "Vip", "titleAngle": 0, "titleAlign": "right", "titleBaseline": "middle", "titleX": -5, "titleY": 12.5, "titleFontStyle": "italic", "titleFontSize": 11, "titleColor": "#000", "domain": false, "ticks": false, "labels": false}}, "color": {"condition": {"test": "datum.c > 36", "value": "#ff00ff"}, "value": "#00ee00"}}}
    ]},
   {"width": 524, "height": 18, "data": {"name": "expr"}, "transform": [{"filter": "datum.gene === 'Npy'"}, {"flatten": ["c", "v"]}],
    "layer": [
     {"mark": {"type": "rule", "color": "#555", "strokeDash": [3, 2], "strokeWidth": 0.8}, "encoding": {"y": {"datum": 0, "type": "quantitative", "axis": {"title": "Npy", "titleAngle": 0, "titleAlign": "right", "titleBaseline": "middle", "titleX": -5, "titleY": 12.5, "titleFontStyle": "italic", "titleFontSize": 11, "titleColor": "#000", "domain": false, "ticks": false, "labels": false}}}},
     {"mark": {"type": "bar", "width": 4.4, "orient": "vertical"}, "encoding": {"x": {"field": "c", "type": "quantitative", "scale": {"domain": [0.5, 81.5], "nice": false, "zero": false}, "axis": null}, "y": {"field": "v", "type": "quantitative", "scale": {"domain": [0, 18], "nice": false}, "axis": {"title": "Npy", "titleAngle": 0, "titleAlign": "right", "titleBaseline": "middle", "titleX": -5, "titleY": 12.5, "titleFontStyle": "italic", "titleFontSize": 11, "titleColor": "#000", "domain": false, "ticks": false, "labels": false}}, "color": {"condition": {"test": "datum.c > 36", "value": "#ff00ff"}, "value": "#00ee00"}}}
    ]},
   {"width": 524, "height": 19, "data": {"name": "expr"}, "transform": [{"filter": "datum.gene === 'Cck'"}, {"flatten": ["c", "v"]}],
    "layer": [
     {"mark": {"type": "rule", "color": "#555", "strokeDash": [3, 2], "strokeWidth": 0.8}, "encoding": {"y": {"datum": 0, "type": "quantitative", "axis": {"title": "Cck", "titleAngle": 0, "titleAlign": "right", "titleBaseline": "middle", "titleX": -5, "titleY": 13.5, "titleFontStyle": "italic", "titleFontSize": 11, "titleColor": "#000", "domain": false, "ticks": false, "labels": false}}}},
     {"mark": {"type": "bar", "width": 4.4, "orient": "vertical"}, "encoding": {"x": {"field": "c", "type": "quantitative", "scale": {"domain": [0.5, 81.5], "nice": false, "zero": false}, "axis": null}, "y": {"field": "v", "type": "quantitative", "scale": {"domain": [0, 19], "nice": false}, "axis": {"title": "Cck", "titleAngle": 0, "titleAlign": "right", "titleBaseline": "middle", "titleX": -5, "titleY": 13.5, "titleFontStyle": "italic", "titleFontSize": 11, "titleColor": "#000", "domain": false, "ticks": false, "labels": false}}, "color": {"condition": {"test": "datum.c > 36", "value": "#ff00ff"}, "value": "#00ee00"}}}
    ]},
   {"width": 524, "height": 18, "data": {"name": "expr"}, "transform": [{"filter": "datum.gene === 'Gad1'"}, {"flatten": ["c", "v"]}],
    "layer": [
     {"mark": {"type": "rule", "color": "#555", "strokeDash": [3, 2], "strokeWidth": 0.8}, "encoding": {"y": {"datum": 0, "type": "quantitative", "axis": {"title": "Gad1", "titleAngle": 0, "titleAlign": "right", "titleBaseline": "middle", "titleX": -5, "titleY": 12.5, "titleFontStyle": "italic", "titleFontSize": 11, "titleColor": "#000", "domain": false, "ticks": false, "labels": false}}}},
     {"mark": {"type": "bar", "width": 4.4, "orient": "vertical"}, "encoding": {"x": {"field": "c", "type": "quantitative", "scale": {"domain": [0.5, 81.5], "nice": false, "zero": false}, "axis": null}, "y": {"field": "v", "type": "quantitative", "scale": {"domain": [0, 18], "nice": false}, "axis": {"title": "Gad1", "titleAngle": 0, "titleAlign": "right", "titleBaseline": "middle", "titleX": -5, "titleY": 12.5, "titleFontStyle": "italic", "titleFontSize": 11, "titleColor": "#000", "domain": false, "ticks": false, "labels": false}}, "color": {"condition": {"test": "datum.c > 36", "value": "#ff00ff"}, "value": "#00ee00"}}}
    ]},
   {"width": 524, "height": 18, "data": {"name": "expr"}, "transform": [{"filter": "datum.gene === 'Pcp4'"}, {"flatten": ["c", "v"]}],
    "layer": [
     {"mark": {"type": "rule", "color": "#555", "strokeDash": [3, 2], "strokeWidth": 0.8}, "encoding": {"y": {"datum": 0, "type": "quantitative", "axis": {"title": "Pcp4", "titleAngle": 0, "titleAlign": "right", "titleBaseline": "middle", "titleX": -5, "titleY": 12.5, "titleFontStyle": "italic", "titleFontSize": 11, "titleColor": "#000", "domain": false, "ticks": false, "labels": false}}}},
     {"mark": {"type": "bar", "width": 4.4, "orient": "vertical"}, "encoding": {"x": {"field": "c", "type": "quantitative", "scale": {"domain": [0.5, 81.5], "nice": false, "zero": false}, "axis": null}, "y": {"field": "v", "type": "quantitative", "scale": {"domain": [0, 18], "nice": false}, "axis": {"title": "Pcp4", "titleAngle": 0, "titleAlign": "right", "titleBaseline": "middle", "titleX": -5, "titleY": 12.5, "titleFontStyle": "italic", "titleFontSize": 11, "titleColor": "#000", "domain": false, "ticks": false, "labels": false}}, "color": {"condition": {"test": "datum.c > 36", "value": "#ff00ff"}, "value": "#00ee00"}}}
    ]},
   {"width": 524, "height": 18, "data": {"name": "expr"}, "transform": [{"filter": "datum.gene === 'Rorb'"}, {"flatten": ["c", "v"]}],
    "layer": [
     {"mark": {"type": "rule", "color": "#555", "strokeDash": [3, 2], "strokeWidth": 0.8}, "encoding": {"y": {"datum": 0, "type": "quantitative", "axis": {"title": "Rorb", "titleAngle": 0, "titleAlign": "right", "titleBaseline": "middle", "titleX": -5, "titleY": 12.5, "titleFontStyle": "italic", "titleFontSize": 11, "titleColor": "#000", "domain": false, "ticks": false, "labels": false}}}},
     {"mark": {"type": "bar", "width": 4.4, "orient": "vertical"}, "encoding": {"x": {"field": "c", "type": "quantitative", "scale": {"domain": [0.5, 81.5], "nice": false, "zero": false}, "axis": null}, "y": {"field": "v", "type": "quantitative", "scale": {"domain": [0, 18], "nice": false}, "axis": {"title": "Rorb", "titleAngle": 0, "titleAlign": "right", "titleBaseline": "middle", "titleX": -5, "titleY": 12.5, "titleFontStyle": "italic", "titleFontSize": 11, "titleColor": "#000", "domain": false, "ticks": false, "labels": false}}, "color": {"condition": {"test": "datum.c > 36", "value": "#ff00ff"}, "value": "#00ee00"}}}
    ]},
   {"width": 524, "height": 19, "data": {"name": "expr"}, "transform": [{"filter": "datum.gene === 'Thy1'"}, {"flatten": ["c", "v"]}],
    "layer": [
     {"mark": {"type": "rule", "color": "#555", "strokeDash": [3, 2], "strokeWidth": 0.8}, "encoding": {"y": {"datum": 0, "type": "quantitative", "axis": {"title": "Thy1", "titleAngle": 0, "titleAlign": "right", "titleBaseline": "middle", "titleX": -5, "titleY": 13.5, "titleFontStyle": "italic", "titleFontSize": 11, "titleColor": "#000", "domain": false, "ticks": false, "labels": false}}}},
     {"mark": {"type": "bar", "width": 4.4, "orient": "vertical"}, "encoding": {"x": {"field": "c", "type": "quantitative", "scale": {"domain": [0.5, 81.5], "nice": false, "zero": false}, "axis": null}, "y": {"field": "v", "type": "quantitative", "scale": {"domain": [0, 19], "nice": false}, "axis": {"title": "Thy1", "titleAngle": 0, "titleAlign": "right", "titleBaseline": "middle", "titleX": -5, "titleY": 13.5, "titleFontStyle": "italic", "titleFontSize": 11, "titleColor": "#000", "domain": false, "ticks": false, "labels": false}}, "color": {"condition": {"test": "datum.c > 36", "value": "#ff00ff"}, "value": "#00ee00"}}}
    ]},
   {"width": 524, "height": 18, "data": {"name": "expr"}, "transform": [{"filter": "datum.gene === 'Clcn3'"}, {"flatten": ["c", "v"]}],
    "layer": [
     {"mark": {"type": "rule", "color": "#555", "strokeDash": [3, 2], "strokeWidth": 0.8}, "encoding": {"y": {"datum": 0, "type": "quantitative", "axis": {"title": "Clcn3", "titleAngle": 0, "titleAlign": "right", "titleBaseline": "middle", "titleX": -5, "titleY": 12.5, "titleFontStyle": "italic", "titleFontSize": 11, "titleColor": "#000", "domain": false, "ticks": false, "labels": false}}}},
     {"mark": {"type": "bar", "width": 4.4, "orient": "vertical"}, "encoding": {"x": {"field": "c", "type": "quantitative", "scale": {"domain": [0.5, 81.5], "nice": false, "zero": false}, "axis": null}, "y": {"field": "v", "type": "quantitative", "scale": {"domain": [0, 18], "nice": false}, "axis": {"title": "Clcn3", "titleAngle": 0, "titleAlign": "right", "titleBaseline": "middle", "titleX": -5, "titleY": 12.5, "titleFontStyle": "italic", "titleFontSize": 11, "titleColor": "#000", "domain": false, "ticks": false, "labels": false}}, "color": {"condition": {"test": "datum.c > 36", "value": "#ff00ff"}, "value": "#00ee00"}}}
    ]},
   {"width": 524, "height": 18, "data": {"name": "expr"}, "transform": [{"filter": "datum.gene === 'Scn3a'"}, {"flatten": ["c", "v"]}],
    "layer": [
     {"mark": {"type": "rule", "color": "#555", "strokeDash": [3, 2], "strokeWidth": 0.8}, "encoding": {"y": {"datum": 0, "type": "quantitative", "axis": {"title": "Scn3a", "titleAngle": 0, "titleAlign": "right", "titleBaseline": "middle", "titleX": -5, "titleY": 12.5, "titleFontStyle": "italic", "titleFontSize": 11, "titleColor": "#000", "domain": false, "ticks": false, "labels": false}}}},
     {"mark": {"type": "bar", "width": 4.4, "orient": "vertical"}, "encoding": {"x": {"field": "c", "type": "quantitative", "scale": {"domain": [0.5, 81.5], "nice": false, "zero": false}, "axis": null}, "y": {"field": "v", "type": "quantitative", "scale": {"domain": [0, 18], "nice": false}, "axis": {"title": "Scn3a", "titleAngle": 0, "titleAlign": "right", "titleBaseline": "middle", "titleX": -5, "titleY": 12.5, "titleFontStyle": "italic", "titleFontSize": 11, "titleColor": "#000", "domain": false, "ticks": false, "labels": false}}, "color": {"condition": {"test": "datum.c > 36", "value": "#ff00ff"}, "value": "#00ee00"}}}
    ]},
   {"width": 524, "height": 18, "data": {"name": "expr"}, "transform": [{"filter": "datum.gene === 'Gria2'"}, {"flatten": ["c", "v"]}],
    "layer": [
     {"mark": {"type": "rule", "color": "#555", "strokeDash": [3, 2], "strokeWidth": 0.8}, "encoding": {"y": {"datum": 0, "type": "quantitative", "axis": {"title": "Gria2", "titleAngle": 0, "titleAlign": "right", "titleBaseline": "middle", "titleX": -5, "titleY": 12.5, "titleFontStyle": "italic", "titleFontSize": 11, "titleColor": "#000", "domain": false, "ticks": false, "labels": false}}}},
     {"mark": {"type": "bar", "width": 4.4, "orient": "vertical"}, "encoding": {"x": {"field": "c", "type": "quantitative", "scale": {"domain": [0.5, 81.5], "nice": false, "zero": false}, "axis": null}, "y": {"field": "v", "type": "quantitative", "scale": {"domain": [0, 18], "nice": false}, "axis": {"title": "Gria2", "titleAngle": 0, "titleAlign": "right", "titleBaseline": "middle", "titleX": -5, "titleY": 12.5, "titleFontStyle": "italic", "titleFontSize": 11, "titleColor": "#000", "domain": false, "ticks": false, "labels": false}}, "color": {"condition": {"test": "datum.c > 36", "value": "#ff00ff"}, "value": "#00ee00"}}}
    ]},
   {"width": 524, "height": 19, "data": {"name": "expr"}, "transform": [{"filter": "datum.gene === 'Gabra1'"}, {"flatten": ["c", "v"]}],
    "layer": [
     {"mark": {"type": "rule", "color": "#555", "strokeDash": [3, 2], "strokeWidth": 0.8}, "encoding": {"y": {"datum": 0, "type": "quantitative", "axis": {"title": "Gabra1", "titleAngle": 0, "titleAlign": "right", "titleBaseline": "middle", "titleX": -5, "titleY": 13.5, "titleFontStyle": "italic", "titleFontSize": 11, "titleColor": "#000", "domain": false, "ticks": false, "labels": false}}}},
     {"mark": {"type": "bar", "width": 4.4, "orient": "vertical"}, "encoding": {"x": {"field": "c", "type": "quantitative", "scale": {"domain": [0.5, 81.5], "nice": false, "zero": false}, "axis": null}, "y": {"field": "v", "type": "quantitative", "scale": {"domain": [0, 19], "nice": false}, "axis": {"title": "Gabra1", "titleAngle": 0, "titleAlign": "right", "titleBaseline": "middle", "titleX": -5, "titleY": 13.5, "titleFontStyle": "italic", "titleFontSize": 11, "titleColor": "#000", "domain": false, "ticks": false, "labels": false}}, "color": {"condition": {"test": "datum.c > 36", "value": "#ff00ff"}, "value": "#00ee00"}}}
    ]},
   {"width": 524, "height": 18, "data": {"name": "expr"}, "transform": [{"filter": "datum.gene === 'Stmn2'"}, {"flatten": ["c", "v"]}],
    "layer": [
     {"mark": {"type": "rule", "color": "#555", "strokeDash": [3, 2], "strokeWidth": 0.8}, "encoding": {"y": {"datum": 0, "type": "quantitative", "axis": {"title": "Stmn2", "titleAngle": 0, "titleAlign": "right", "titleBaseline": "middle", "titleX": -5, "titleY": 12.5, "titleFontStyle": "italic", "titleFontSize": 11, "titleColor": "#000", "domain": false, "ticks": false, "labels": false}}}},
     {"mark": {"type": "bar", "width": 4.4, "orient": "vertical"}, "encoding": {"x": {"field": "c", "type": "quantitative", "scale": {"domain": [0.5, 81.5], "nice": false, "zero": false}, "axis": null}, "y": {"field": "v", "type": "quantitative", "scale": {"domain": [0, 18], "nice": false}, "axis": {"title": "Stmn2", "titleAngle": 0, "titleAlign": "right", "titleBaseline": "middle", "titleX": -5, "titleY": 12.5, "titleFontStyle": "italic", "titleFontSize": 11, "titleColor": "#000", "domain": false, "ticks": false, "labels": false}}, "color": {"condition": {"test": "datum.c > 36", "value": "#ff00ff"}, "value": "#00ee00"}}}
    ]},
   {"width": 10, "height": 10, "data": {"values": [{}]}, "mark": {"type": "point", "opacity": 0}, "encoding": {}},
   {
    "width": 524, "height": 19,
    "data": {"name": "cells"},
    "view": {"stroke": "#000", "strokeWidth": 1},
    "layer": [
     {"transform": [{"fold": ["GAD67", "CCK"], "as": ["marker", "pos"]}, {"filter": "datum.pos === 1"}],
      "mark": {"type": "rect"},
      "encoding": {
       "x": {"field": "c", "type": "ordinal", "scale": {"domain": [1,2,3,4,5,6,7,8,9,10,11,12,13,14,15,16,17,18,19,20,21,22,23,24,25,26,27,28,29,30,31,32,33,34,35,36,37,38,39,40,41,42,43,44,45,46,47,48,49,50,51,52,53,54,55,56,57,58,59,60,61,62,63,64,65,66,67,68,69,70,71,72,73,74,75,76,77,78,79,80,81], "paddingInner": 0, "paddingOuter": 0}, "axis": null},
       "y": {"field": "marker", "type": "nominal", "scale": {"domain": ["GAD67", "CCK"], "paddingInner": 0, "paddingOuter": 0}, "axis": {"title": null, "domain": false, "ticks": false, "labelPadding": 3, "labelFontSize": 11, "labelColor": "#000"}},
       "color": {"condition": {"test": "datum.marker === 'GAD67'", "value": "#ff00ff"}, "value": "#00ee00"}
      }},
     {"data": {"values": [{"marker": "CCK"}]}, "mark": {"type": "rule", "color": "#000", "strokeWidth": 1},
      "encoding": {"y": {"field": "marker", "type": "nominal", "bandPosition": 0, "axis": {"title": null, "domain": false, "ticks": false, "labelPadding": 3, "labelFontSize": 11, "labelColor": "#000"}}}}
    ]
   },
   {"width": 10, "height": 12, "data": {"values": [{}]}, "mark": {"type": "point", "opacity": 0}, "encoding": {}},
   {
    "width": 524, "height": 42,
    "data": {"name": "cells"},
    "layer": [
     {"data": {"values": [{"L": "L2"}, {"L": "L3"}, {"L": "L4"}, {"L": "L5"}]}, "mark": {"type": "rule", "color": "#888", "strokeWidth": 1},
      "encoding": {"y": {"field": "L", "type": "nominal", "bandPosition": 0, "axis": {"title": null, "domain": false, "ticks": false, "labelFontSize": 11, "labelColor": "#000", "labelOffset": 1.5, "labelPadding": {"condition": {"test": "datum.value === 'L2' || datum.value === 'L4'", "value": 11}, "value": 4}}}}},
     {"data": {"values": [{"L": "L1"}]}, "mark": {"type": "rule", "color": "#888", "strokeWidth": 1, "strokeDash": [4, 3]},
      "encoding": {"y": {"field": "L", "type": "nominal", "bandPosition": 0, "axis": {"title": null, "domain": false, "ticks": false, "labelFontSize": 11, "labelColor": "#000", "labelOffset": 1.5, "labelPadding": {"condition": {"test": "datum.value === 'L2' || datum.value === 'L4'", "value": 11}, "value": 4}}}}},
     {"data": {"values": [{"L": "L5"}]}, "mark": {"type": "rule", "color": "#888", "strokeWidth": 1, "strokeDash": [4, 3]},
      "encoding": {"y": {"field": "L", "type": "nominal", "bandPosition": 1, "axis": {"title": null, "domain": false, "ticks": false, "labelFontSize": 11, "labelColor": "#000", "labelOffset": 1.5, "labelPadding": {"condition": {"test": "datum.value === 'L2' || datum.value === 'L4'", "value": 11}, "value": 4}}}}},
     {"mark": {"type": "rect", "color": "#000"},
      "encoding": {
       "x": {"field": "c", "type": "ordinal", "scale": {"domain": [1,2,3,4,5,6,7,8,9,10,11,12,13,14,15,16,17,18,19,20,21,22,23,24,25,26,27,28,29,30,31,32,33,34,35,36,37,38,39,40,41,42,43,44,45,46,47,48,49,50,51,52,53,54,55,56,57,58,59,60,61,62,63,64,65,66,67,68,69,70,71,72,73,74,75,76,77,78,79,80,81], "paddingInner": 0, "paddingOuter": 0}, "axis": null},
       "y": {"field": "L", "type": "nominal", "scale": {"domain": ["L1", "L2", "L3", "L4", "L5"], "paddingInner": 0, "paddingOuter": 0}, "axis": {"title": null, "domain": false, "ticks": false, "labelFontSize": 11, "labelColor": "#000", "labelOffset": 1.5, "labelPadding": {"condition": {"test": "datum.value === 'L2' || datum.value === 'L4'", "value": 11}, "value": 4}}}
      }}
    ]
   }
  ],
  "spacing": 0, "bounds": "flush"
 }
],
"spacing": 34.5,
"bounds": "full"
}
